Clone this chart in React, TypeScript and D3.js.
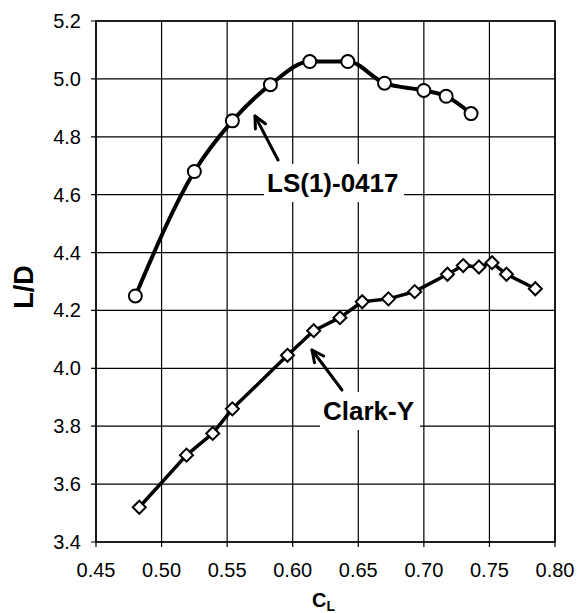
import React from "react";
import * as d3 from "d3";

// L/D vs CL, two airfoils
const lsCL = [0.480, 0.525, 0.554, 0.583, 0.613, 0.642, 0.670, 0.700, 0.717, 0.736];
const lsLD = [4.25, 4.68, 4.855, 4.98, 5.06, 5.06, 4.985, 4.96, 4.94, 4.88];

const clarkCL = [0.483, 0.519, 0.539, 0.554, 0.596, 0.616, 0.636, 0.653, 0.673, 0.693, 0.718, 0.730, 0.742, 0.752, 0.763, 0.785];
const clarkLD = [3.52, 3.70, 3.775, 3.86, 4.045, 4.13, 4.175, 4.23, 4.24, 4.265, 4.325, 4.355, 4.35, 4.365, 4.325, 4.275];

const xTicks = [0.45, 0.5, 0.55, 0.6, 0.65, 0.7, 0.75, 0.8];
const yTicks = [3.4, 3.6, 3.8, 4.0, 4.2, 4.4, 4.6, 4.8, 5.0, 5.2];

const W = 579;
const H = 613;
const margin = { top: 21, right: 24, bottom: 71, left: 96 };
const font = "'Liberation Sans', Arial, sans-serif";

const App = () => {
  const x = d3.scaleLinear().domain([0.45, 0.8]).range([margin.left, W - margin.right]);
  const y = d3.scaleLinear().domain([3.4, 5.2]).range([H - margin.bottom, margin.top]);

  const ls = lsCL.map((c, i) => [c, lsLD[i]] as [number, number]);
  const clark = clarkCL.map((c, i) => [c, clarkLD[i]] as [number, number]);

  const lsLine = d3.line<[number, number]>()
    .x(d => x(d[0]))
    .y(d => y(d[1]))
    .curve(d3.curveMonotoneX);
  const clarkLine = d3.line<[number, number]>()
    .x(d => x(d[0]))
    .y(d => y(d[1]));

  const x0 = x(0.45), x1 = x(0.8), y0 = y(3.4), y1 = y(5.2);

  // arrow helper: tail -> head, open V head
  const arrow = (tx: number, ty: number, hx: number, hy: number) => {
    const ang = Math.atan2(ty - hy, tx - hx);
    const len = 13, spread = 0.45;
    const a1 = [hx + len * Math.cos(ang + spread), hy + len * Math.sin(ang + spread)];
    const a2 = [hx + len * Math.cos(ang - spread), hy + len * Math.sin(ang - spread)];
    return (
      <g stroke="#000" strokeWidth={3} fill="none" strokeLinecap="round" strokeLinejoin="round">
        <line x1={tx} y1={ty} x2={hx} y2={hy} />
        <polyline points={`${a1[0]},${a1[1]} ${hx},${hy} ${a2[0]},${a2[1]}`} />
      </g>
    );
  };

  return (
    <div style={{ position: "fixed", left: 0, top: 0, background: "#fff" }}>
      <svg width={W} height={H} style={{ display: "block", fontFamily: font }}>
        <rect width={W} height={H} fill="#fff" />

        {/* grid */}
        <g stroke="#000" strokeWidth={1.2}>
          {xTicks.map(t => (
            <line key={"gx" + t} x1={x(t)} x2={x(t)} y1={y1} y2={y0 + 5} />
          ))}
          {yTicks.map(t => (
            <line key={"gy" + t} x1={x0 - 5} x2={x1} y1={y(t)} y2={y(t)} />
          ))}
        </g>
        <rect x={x0} y={y1} width={x1 - x0} height={y0 - y1} fill="none" stroke="#000" strokeWidth={1.5} />

        {/* tick labels */}
        <g fontSize={20} fill="#000">
          {xTicks.map(t => (
            <text key={"tx" + t} x={x(t)} y={y0 + 35} textAnchor="middle">{d3.format(".2f")(t)}</text>
          ))}
          {yTicks.map(t => (
            <text key={"ty" + t} x={81} y={y(t) + 7} textAnchor="end">{d3.format(".1f")(t)}</text>
          ))}
        </g>

        {/* axis titles */}
        <text transform="translate(33,287) rotate(-90)" textAnchor="middle" fontSize={27} fontWeight="bold" fill="#000">L/D</text>
        <text x={312} y={607} fontSize={20} fontWeight="bold" fill="#000">
          C<tspan fontSize={14} dy={4}>L</tspan>
        </text>

        {/* label boxes */}
        <rect x={264} y={164} width={140} height={38} fill="#fff" />
        <rect x={320} y={392} width={100} height={38} fill="#fff" />

        {/* series */}
        <path d={lsLine(ls) ?? ""} fill="none" stroke="#000" strokeWidth={4} strokeLinejoin="round" />
        <path d={clarkLine(clark) ?? ""} fill="none" stroke="#000" strokeWidth={3.5} strokeLinejoin="round" />

        {ls.map((d, i) => (
          <circle key={"c" + i} cx={x(d[0])} cy={y(d[1])} r={6.5} fill="#fff" stroke="#000" strokeWidth={2} />
        ))}
        {clark.map((d, i) => {
          const cx = x(d[0]), cy = y(d[1]), s = 6.5;
          return (
            <polygon key={"d" + i} points={`${cx},${cy - s} ${cx + s},${cy} ${cx},${cy + s} ${cx - s},${cy}`}
              fill="#fff" stroke="#000" strokeWidth={2} />
          );
        })}

        {/* annotations */}
        {arrow(278, 160, 255, 116)}
        {arrow(342, 390, 312, 350)}
        <text x={267} y={192} fontSize={26} fontWeight="bold" fill="#000">LS(1)-0417</text>
        <text x={323} y={420} fontSize={26} fontWeight="bold" fill="#000">Clark-Y</text>
      </svg>
    </div>
  );
};

export default App;
